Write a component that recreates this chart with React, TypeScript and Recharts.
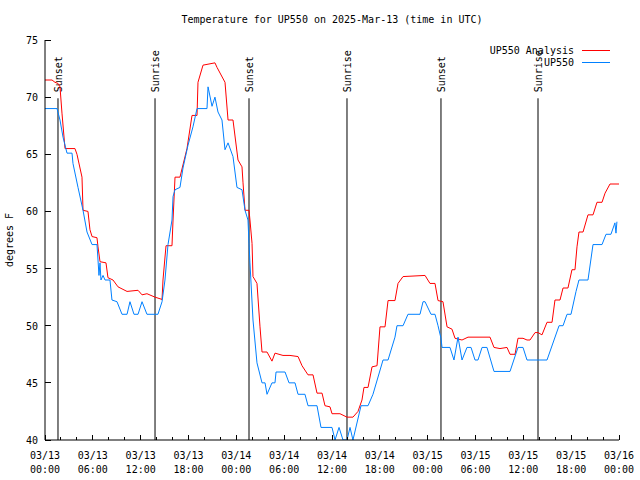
import { LineChart, Line, XAxis, YAxis, ReferenceLine, Legend } from 'recharts';

document.body.style.margin = '0';

const FONT = '"DejaVu Sans Mono", monospace';

// hours since 03/13 00:00 UTC
const analysisHours = [
  0, 0.88, 1.25, 1.63, 1.88, 2.13, 2.51, 3.76, 4.01, 4.64, 4.77, 5.39, 5.64, 5.9, 6.52, 6.65, 6.9, 7.65, 7.9, 8.53,
  9.16, 10.29, 11.67, 12.17, 12.79, 13.8, 14.68, 14.8, 15.18, 15.93, 16.06, 16.31, 16.93, 17.81, 18.44, 19.07, 19.19,
  19.82, 21.32, 21.58, 22.58, 22.96, 23.58, 24.21, 24.71, 24.84, 25.09, 25.59, 25.71, 25.97, 26.09, 26.59, 26.97,
  27.22, 27.85, 28.47, 28.85, 29.85, 30.73, 31.74, 32.24, 32.99, 33.62, 34.12, 34.75, 35.12, 35.75, 36.0, 37.0, 37.88,
  38.63, 39.26, 39.76, 40.01, 40.52, 41.02, 41.65, 42.02, 42.65, 43.03, 43.9, 44.28, 44.91, 47.67, 48.29, 48.92, 49.3,
  49.92, 50.43, 51.05, 51.43, 52.31, 53.06, 55.82, 56.32, 57.07, 57.95, 58.33, 58.96, 59.33, 59.96, 60.46, 60.84,
  61.47, 61.84, 62.34, 62.97, 63.6, 63.97, 64.6, 64.98, 65.6, 66.1, 66.48, 66.73, 66.98, 67.49, 68.11, 68.74, 69.24,
  69.87, 70.25, 70.87, 72,
];
const analysisTemps = [
  71.5, 71.5, 71.3, 71.2, 70.9, 68.6, 65.5, 65.5, 65, 63, 60.1, 60, 58.4, 57.8, 57.7, 56.9, 55.6, 55.5, 54.2, 54,
  53.4, 53.0, 53.1, 52.7, 52.8, 52.5, 52.3, 54, 57, 57, 59.25, 63, 63, 65.5, 68.4, 68.4, 71.3,
  72.8, 73, 72.6, 71.3, 68, 68, 64.5, 63.9, 62.5, 60.1, 60.1, 59.25, 57.2, 54.3, 53.7, 49.9,
  47.7, 47.7, 46.9, 47.6, 47.4, 47.4, 47.3, 46.5, 45.7, 45.7, 44.1, 44.1, 43, 42.9, 42.3, 42.3, 42,
  42, 42.5, 43.5, 44.6, 44.6, 46.4, 46.5, 49.9, 49.9, 52.2, 52.2, 53.7, 54.3, 54.4, 53.7, 53.7, 52.2,
  52.1, 49.9, 49.7, 48.9, 48.75, 49, 49, 48.1, 48, 48.1, 47.5, 47.5, 48.9, 48.9, 48.75, 48.75,
  49.4, 49.4, 49.2, 50.3, 50.3, 52.25, 52.25, 53.3, 53.3, 54.9, 54.9, 56.9, 58.2, 58.2, 59.7, 59.7, 60.8,
  60.8, 61.6, 62.4, 62.4,
];

const stationHours = [
  0, 1.51, 1.88, 2.26, 2.76, 3.39, 3.51, 4.14, 4.77, 5.27, 5.9, 6.52, 6.65, 6.77, 6.9, 7.02, 7.28, 7.53, 8.15, 8.4,
  9.03, 9.66, 10.29, 10.66, 11.16, 11.67, 12.17, 12.79, 14.17, 14.68, 15.05, 15.43, 15.93, 16.06, 16.31, 16.93, 17.31,
  17.94, 18.56, 19.07, 20.32, 20.45, 20.95, 21.32, 21.7, 22.2, 22.58, 22.96, 23.58, 24.08, 24.71, 25.09, 25.46, 25.59,
  25.71, 26.09, 26.59, 27.22, 27.6, 27.85, 28.47, 28.85, 28.98, 30.11, 30.61, 31.36, 31.74, 32.61, 32.99, 34.12,
  34.62, 36.0, 36.38, 36.88, 37.38, 37.88, 38.26, 38.63, 39.64, 40.52, 41.14, 42.4, 43.03, 43.9, 44.15, 44.91, 45.53,
  47.04, 47.42, 47.67, 48.42, 48.92, 49.3, 49.67, 49.8, 50.8, 51.3, 51.81, 52.31, 52.93, 53.44, 53.94, 54.31, 54.82,
  55.44, 56.32, 58.33, 59.33, 59.96, 60.46, 62.97, 64.48, 64.98, 65.48, 65.98, 66.61, 66.98, 68.11, 68.74, 69.87,
  70.37, 70.99, 71.49, 71.62, 71.74,
];
const stationTemps = [
  69, 69, 68, 66.5, 65.1, 65.1, 64.2, 62.1, 60.1, 58.2, 57.1, 57.1, 55.75, 54.4, 55.5, 54, 54.4, 54, 54, 52.25,
  52.1, 51, 51, 52.1, 51, 51, 52.1, 51, 51, 52.1, 54, 57.1, 59.25, 61.3, 61.9, 62.1, 63.8,
  65.8, 67.4, 69, 69, 70.9, 69.2, 70, 68.7, 68, 65.4, 66, 64.8, 62.1, 61.9, 60.1, 59.25, 57.2,
  55.5, 50.5, 46.75, 45, 45, 44, 45, 45, 45.95, 45.95, 45, 45, 44, 44, 43, 43,
  41.1, 41.1, 40, 41.1, 40, 40, 41.1, 40, 43, 43, 44, 47, 47, 49, 50, 50, 51,
  51, 52.1, 52.1, 51, 51, 50, 48.9, 48.1, 48.1, 47, 49, 47, 48.1, 48.1, 47, 47, 48.1,
  48.1, 46, 46, 48.1, 48.1, 47, 47, 50, 50, 51, 51, 53, 54, 54, 57.1, 57.1,
  58, 58, 59, 58.1, 59.1,
];

const sunHours = [1.63, 13.8, 25.59, 37.88, 49.67, 61.84];
const sunLabels = ['Sunset', 'Sunrise', 'Sunset', 'Sunrise', 'Sunset', 'Sunrise'];

const seriesNames = ['UP550 Analysis', 'UP550'];

const xTicks = [0, 2, 4, 6, 8, 10, 12, 14, 16, 18, 20, 22, 24, 26, 28, 30, 32, 34, 36, 38, 40, 42, 44, 46, 48, 50, 52, 54, 56, 58, 60, 62, 64, 66, 68, 70, 72];
const xMajor = [0, 6, 12, 18, 24, 30, 36, 42, 48, 54, 60, 66, 72];
const xDates = ['03/13', '03/13', '03/13', '03/13', '03/14', '03/14', '03/14', '03/14', '03/15', '03/15', '03/15', '03/15', '03/16'];
const xTimes = ['00:00', '06:00', '12:00', '18:00', '00:00', '06:00', '12:00', '18:00', '00:00', '06:00', '12:00', '18:00', '00:00'];
const yTicks = [40, 45, 50, 55, 60, 65, 70, 75];

const analysisData = analysisHours.map((h, i) => ({ h, t: analysisTemps[i] }));
const stationData = stationHours.map((h, i) => ({ h, t: stationTemps[i] }));

function BottomTick({ x, y, payload }: any) {
  const idx = xMajor.indexOf(payload.value);
  if (idx < 0) return <line x1={x} x2={x} y1={y} y2={y - 3} stroke="#000" shapeRendering="crispEdges" />;
  return (
    <g>
      <line x1={x} x2={x} y1={y} y2={y - 5} stroke="#000" shapeRendering="crispEdges" />
      <text x={x} y={y + 19} textAnchor="middle" fontFamily={FONT} fontSize={10} fill="#000">{xDates[idx]}</text>
      <text x={x} y={y + 33} textAnchor="middle" fontFamily={FONT} fontSize={10} fill="#000">{xTimes[idx]}</text>
    </g>
  );
}

function TopTick({ x, y, payload }: any) {
  const len = xMajor.includes(payload.value) ? 5 : 3;
  return <line x1={x} x2={x} y1={y} y2={y + len} stroke="#000" shapeRendering="crispEdges" />;
}

function LeftTick({ x, y, payload }: any) {
  return (
    <g>
      <line x1={x} x2={x + 6} y1={y} y2={y} stroke="#000" shapeRendering="crispEdges" />
      <text x={x - 7} y={y + 4} textAnchor="end" fontFamily={FONT} fontSize={10} fill="#000">{payload.value}</text>
    </g>
  );
}

function RightTick({ x, y }: any) {
  return <line x1={x} x2={x - 6} y1={y} y2={y} stroke="#000" shapeRendering="crispEdges" />;
}

function LegendBox({ payload }: any) {
  const items = [...(payload || [])].sort((a: any, b: any) => seriesNames.indexOf(a.value) - seriesNames.indexOf(b.value));
  return (
    <div style={{ fontFamily: FONT, fontSize: 10 }}>
      {items.map((p: any) => (
        <div key={p.value} style={{ display: 'flex', alignItems: 'center', justifyContent: 'flex-end', height: 12 }}>
          <span style={{ whiteSpace: 'pre' }}>{p.value}</span>
          <span style={{ display: 'inline-block', width: 28, borderTop: `1px solid ${p.color}`, marginLeft: 8 }} />
        </div>
      ))}
    </div>
  );
}

export default function App() {
  return (
    <div style={{ position: 'relative', width: 640, height: 480, background: '#fff' }}>
      <div style={{ position: 'absolute', top: 14, left: 0, width: 664, textAlign: 'center', fontFamily: FONT, fontSize: 10, whiteSpace: 'pre' }}>
        Temperature for UP550 on 2025-Mar-13 (time in UTC)
      </div>
      <LineChart width={640} height={480} margin={{ top: 40, right: 21, bottom: 0, left: 0 }}>
        <XAxis dataKey="h" type="number" domain={[0, 72]} ticks={xTicks} interval={0} height={40}
          axisLine={{ stroke: '#000' }} tickLine={false} tickSize={0} tickMargin={0} tick={BottomTick} allowDataOverflow />
        <XAxis xAxisId="top" orientation="top" dataKey="h" type="number" domain={[0, 72]} ticks={xTicks} interval={0} height={0}
          axisLine={{ stroke: '#000' }} tickLine={false} tickSize={0} tickMargin={0} tick={TopTick} />
        <YAxis type="number" domain={[40, 75]} ticks={yTicks} interval={0} width={45} allowDataOverflow
          axisLine={{ stroke: '#000' }} tickLine={false} tickSize={0} tickMargin={0} tick={LeftTick}
          label={(props: any) => {
            const vb = props.viewBox || { y: 40, height: 400 };
            const cy = vb.y + vb.height / 2;
            return (
              <text x={13} y={cy} transform={`rotate(-90, 13, ${cy})`} textAnchor="middle" fontFamily={FONT} fontSize={10} fill="#000">
                degrees F
              </text>
            );
          }} />
        <YAxis yAxisId="right" orientation="right" type="number" domain={[40, 75]} ticks={yTicks} interval={0} width={0}
          axisLine={{ stroke: '#000' }} tickLine={false} tickSize={0} tickMargin={0} tick={RightTick} />
        {sunHours.map((h, i) => (
          <ReferenceLine key={i} segment={[{ x: h, y: 69.9 }, { x: h, y: 40 }]} stroke="#000" strokeWidth={1}
            label={(props: any) => {
              const vb = props.viewBox || { x: 0, y: 0 };
              const lx = vb.x + 4;
              const ly = Math.min(vb.y, vb.y + (vb.height || 0)) - 6;
              return (
                <text x={lx} y={ly} transform={`rotate(-90, ${lx}, ${ly})`} textAnchor="start" fontFamily={FONT} fontSize={10} fill="#000">
                  {sunLabels[i]}
                </text>
              );
            }} />
        ))}
        <Legend layout="vertical" align="center" verticalAlign="middle" content={LegendBox}
          wrapperStyle={{ top: 44, left: 450, width: 160, right: 'auto', bottom: 'auto' }} />
        <Line data={analysisData} dataKey="t" name="UP550 Analysis" stroke="#ff0000" strokeWidth={1} dot={false}
          isAnimationActive={false} type="linear" />
        <Line data={stationData} dataKey="t" name="UP550" stroke="#0080ff" strokeWidth={1} dot={false}
          isAnimationActive={false} type="linear" />
      </LineChart>
    </div>
  );
}
